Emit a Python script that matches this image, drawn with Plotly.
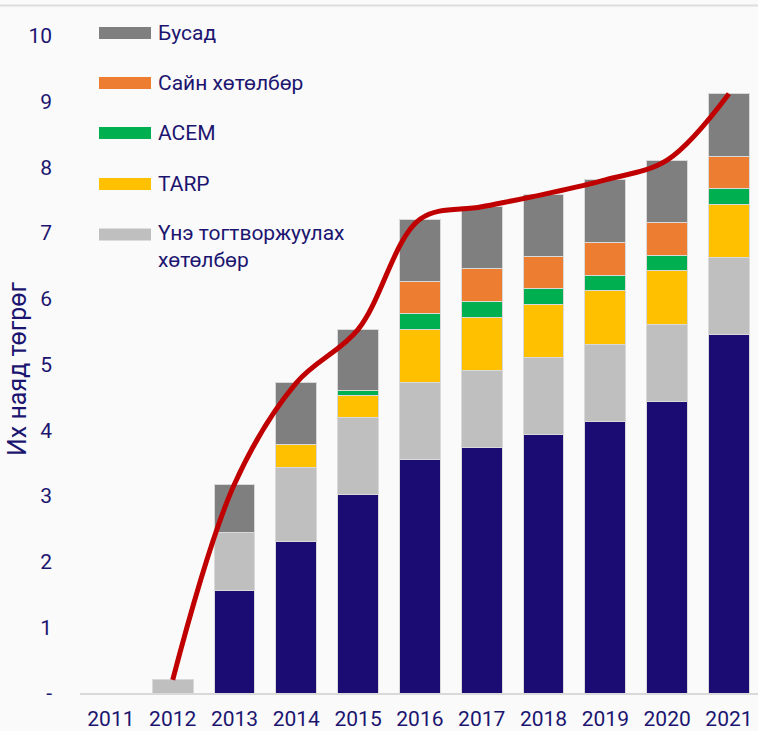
import plotly.graph_objects as go

years = ["2011", "2012", "2013", "2014", "2015", "2016", "2017", "2018", "2019", "2020", "2021"]

# Series values (trillion MNT)
oron_suuts = [0, 0, 1.56, 2.31, 3.02, 3.55, 3.74, 3.93, 4.14, 4.44, 5.455]
une_togtvor = [0, 0.20, 0.88, 1.125, 1.175, 1.17, 1.17, 1.17, 1.17, 1.17, 1.17]
tarp = [0, 0, 0, 0.345, 0.335, 0.815, 0.81, 0.815, 0.82, 0.82, 0.815]
acem = [0, 0, 0, 0, 0.07, 0.235, 0.24, 0.235, 0.23, 0.23, 0.235]
sain = [0, 0, 0, 0, 0, 0.50, 0.505, 0.495, 0.50, 0.505, 0.495]
busad = [0, 0, 0.74, 0.94, 0.93, 0.94, 0.935, 0.945, 0.95, 0.945, 0.95]

line_years = ["2012", "2013", "2014", "2015", "2016", "2017", "2018", "2019", "2020", "2021"]
total = [0.20, 3.18, 4.72, 5.535, 7.21, 7.40, 7.59, 7.81, 8.11, 9.12]

y_tickvals = [0, 1, 2, 3, 4, 5, 6, 7, 8, 9, 10]
y_ticktext = ["-", "1", "2", "3", "4", "5", "6", "7", "8", "9", "10"]

TEXT = "#1C1570"
FONT = "Roboto"
W, H = 758, 731
ML, MR, MT, MB = 80, 0, 36, 38

series = [
    ("Орон сууцны хөтөлбөр", oron_suuts, "#1B0C73", False),
    ("Үнэ тогтворжуулах хөтөлбөр", une_togtvor, "#BFBFBF", True),
    ("TARP", tarp, "#FFC000", True),
    ("ACEM", acem, "#00B050", True),
    ("Сайн хөтөлбөр", sain, "#ED7D31", True),
    ("Бусад", busad, "#7F7F7F", True),
]

fig = go.Figure()
for name, vals, col, _ in series:
    fig.add_trace(go.Bar(
        x=years, y=vals, name=name,
        marker=dict(color=col, line=dict(color="#D9D9D9", width=1)),
        showlegend=False,
    ))

fig.add_trace(go.Scatter(
    x=line_years, y=total, mode="lines",
    line=dict(color="#C00000", width=5, shape="spline", smoothing=1.0),
    showlegend=False, name="Нийт",
))

# custom legend (wide colour swatches)
def px_x(px):
    return (px - ML) / (W - ML - MR)

def px_y(py):
    return (H - MB - py) / (H - MT - MB)

legend_items = [
    ("Бусад", "#7F7F7F", 33, None),
    ("Сайн хөтөлбөр", "#ED7D31", 83, None),
    ("ACEM", "#00B050", 133, None),
    ("TARP", "#FFC000", 184, None),
    ("Үнэ тогтворжуулах<br>хөтөлбөр", "#BFBFBF", 234.5, 246),
]
shapes = []
annotations = []
for label, col, cy, ty in legend_items:
    shapes.append(dict(type="rect", xref="paper", yref="paper",
                       x0=px_x(99), x1=px_x(151), y0=px_y(cy + 6), y1=px_y(cy - 6),
                       fillcolor=col, line=dict(width=0), layer="above"))
    annotations.append(dict(xref="paper", yref="paper", x=px_x(156),
                            y=px_y(ty if ty else cy), text=label, showarrow=False,
                            xanchor="left", yanchor="middle", align="left",
                            font=dict(family=FONT, size=21, color=TEXT)))

# y-axis title as annotation for precise placement
annotations.append(dict(xref="paper", yref="paper", x=px_x(17), y=px_y(369),
                        text="Их наяд төгрөг", showarrow=False, textangle=-90,
                        xanchor="center", yanchor="middle",
                        font=dict(family=FONT, size=25, color=TEXT)))

# top border line
shapes.append(dict(type="line", xref="paper", yref="paper", x0=-1, x1=1.2,
                   y0=px_y(5.5), y1=px_y(5.5), line=dict(color="#DDDDDD", width=2)))

fig.update_layout(
    width=W, height=H,
    margin=dict(l=ML, r=MR, t=MT, b=MB),
    barmode="stack", bargap=0.34,
    paper_bgcolor="#FAFAFA", plot_bgcolor="#FAFAFA",
    font=dict(family=FONT, color=TEXT, size=20),
    shapes=shapes, annotations=annotations,
    xaxis=dict(
        type="category", range=[-0.5, 10.47],
        showgrid=False, showline=True, linecolor="#D9D9D9", linewidth=2,
        ticks="", tickfont=dict(family=FONT, size=21, color=TEXT),
        ticklabelstandoff=6, automargin=False, zeroline=False,
    ),
    yaxis=dict(
        range=[0, 10], tickvals=y_tickvals, ticktext=y_ticktext,
        showgrid=False, showline=False, zeroline=False, ticks="",
        tickfont=dict(family=FONT, size=21, color=TEXT),
        ticklabelstandoff=27, automargin=False,
    ),
)

fig.write_html(
    "out.html",
    config={"displayModeBar": False},
    post_script="document.body.style.margin='0';document.body.style.padding='0';"
                "document.documentElement.style.overflow='hidden';document.body.style.overflow='hidden';",
)
